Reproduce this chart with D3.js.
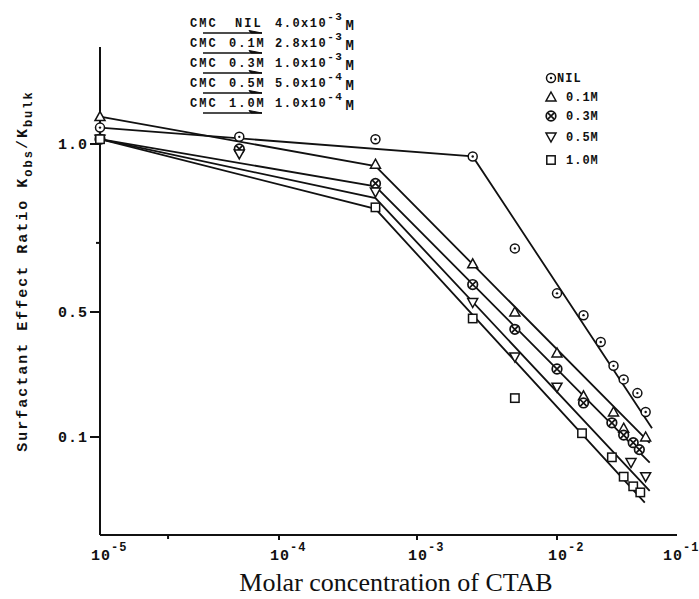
<!DOCTYPE html>
<html>
<head>
<meta charset="utf-8">
<script src="https://cdn.jsdelivr.net/npm/d3@7"></script>
<style>
  html, body { margin: 0; padding: 0; background: #fff; }
  svg { display: block; }
</style>
</head>
<body>
<div id="chart"></div>
<script>
// axis ticks
const xTicks = [1e-5, 1e-4, 1e-3, 1e-2, 1e-1];
const xTickExps = ['-5', '-4', '-3', '-2', '-1'];
const xMinorTicks = [2.4e-5];
const yTicks = [1.0, 0.5, 0.1];
const yTickLabels = ['1.0', '0.5', '0.1'];
const yMinorTicks = [0.665];

// measured points (molar conc. of CTAB, Kobs/Kbulk)
const nilX = [1e-5, 6e-5, 5e-4, 2.5e-3, 5e-3, 1e-2, 1.7e-2, 2.4e-2, 3.1e-2, 3.8e-2, 5e-2, 5.9e-2];
const nilY = [1.07, 1.03, 1.02, 0.95, 0.65, 0.54, 0.48, 0.34, 0.25, 0.21, 0.176, 0.138];
const m01X = [1e-5, 5e-4, 2.5e-3, 5e-3, 1e-2, 1.7e-2, 3.1e-2, 3.8e-2, 5.9e-2];
const m01Y = [1.12, 0.92, 0.61, 0.50, 0.295, 0.17, 0.138, 0.112, 0.10];
const m03X = [1e-5, 6e-5, 5e-4, 2.5e-3, 5e-3, 1e-2, 1.7e-2, 3e-2, 3.8e-2, 4.6e-2, 5.2e-2];
const m03Y = [1.02, 0.98, 0.85, 0.56, 0.40, 0.24, 0.155, 0.12, 0.1025, 0.093, 0.085];
const m05X = [1e-5, 6e-5, 5e-4, 2.5e-3, 5e-3, 1e-2, 4.4e-2, 5.9e-2];
const m05Y = [1.02, 0.96, 0.82, 0.52, 0.28, 0.19, 0.072, 0.06];
const m10X = [1e-5, 5e-4, 2.5e-3, 5e-3, 1.65e-2, 3e-2, 3.8e-2, 4.6e-2, 5.3e-2];
const m10Y = [1.02, 0.77, 0.46, 0.165, 0.105, 0.077, 0.06, 0.053, 0.049];

// drawn fit lines
const nilFitX = [1e-5, 2.5e-3, 6.7e-2];
const nilFitY = [1.07, 0.95, 0.112];
const m01FitX = [1e-5, 5e-4, 6.4e-2];
const m01FitY = [1.12, 0.913, 0.0926];
const m03FitX = [1e-5, 5e-4, 6.4e-2];
const m03FitY = [1.02, 0.84, 0.072];
const m05FitX = [1e-5, 5e-4, 6.4e-2];
const m05FitY = [1.02, 0.80, 0.05];
const m10FitX = [1e-5, 5e-4, 5.8e-2];
const m10FitY = [1.02, 0.765, 0.043];

const seriesNames = ['NIL', '0.1M', '0.3M', '0.5M', '1.0M'];
const seriesMarkers = ['circleDot', 'triUp', 'circleX', 'triDown', 'square'];

// CMC annotations
const cmcLabels = ['NIL', '0.1M', '0.3M', '0.5M', '1.0M'];
const cmcMantissa = ['4.0x10', '2.8x10', '1.0x10', '5.0x10', '1.0x10'];
const cmcExps = ['-3', '-3', '-3', '-4', '-4'];

const W = 699, H = 599;
const ink = '#111';
const mono = '"Liberation Mono", "DejaVu Sans Mono", monospace';

const series = [
  { x: nilX, y: nilY, fx: nilFitX, fy: nilFitY },
  { x: m01X, y: m01Y, fx: m01FitX, fy: m01FitY },
  { x: m03X, y: m03Y, fx: m03FitX, fy: m03FitY },
  { x: m05X, y: m05Y, fx: m05FitX, fy: m05FitY },
  { x: m10X, y: m10Y, fx: m10FitX, fy: m10FitY },
].map((s, i) => ({
  name: seriesNames[i],
  marker: seriesMarkers[i],
  points: s.x.map((v, j) => ({ x: v, y: s.y[j] })),
  fit: s.fx.map((v, j) => ({ x: v, y: s.fy[j] })),
}));

// the scanned axes are not evenly spaced, so use piecewise log scales
const x = d3.scaleLog().domain(xTicks).range([100, 279, 417, 557, 672]);
const y = d3.scaleLog().domain(yTicks).range([144, 312, 437]);

const svg = d3.select('#chart').append('svg')
  .attr('width', W).attr('height', H);
svg.append('rect').attr('width', W).attr('height', H).attr('fill', '#fff');

// axes frame
const axisG = svg.append('g').attr('stroke', ink).attr('stroke-width', 2).attr('fill', 'none');
axisG.append('line').attr('x1', 100).attr('x2', 100).attr('y1', 47).attr('y2', 535);
axisG.append('line').attr('x1', 100).attr('x2', 677).attr('y1', 535).attr('y2', 535);

axisG.selectAll('line.ytick').data(yTicks).join('line')
  .attr('class', 'ytick')
  .attr('x1', 90).attr('x2', 100)
  .attr('y1', d => y(d)).attr('y2', d => y(d));
axisG.selectAll('line.yminor').data(yMinorTicks).join('line')
  .attr('class', 'yminor')
  .attr('x1', 96).attr('x2', 100)
  .attr('y1', d => y(d)).attr('y2', d => y(d));
axisG.selectAll('line.xtick').data(xTicks.slice(1, 4)).join('line')
  .attr('class', 'xtick')
  .attr('x1', d => x(d)).attr('x2', d => x(d))
  .attr('y1', 535).attr('y2', 540);
axisG.selectAll('line.xminor').data(xMinorTicks).join('line')
  .attr('class', 'xminor')
  .attr('x1', d => x(d)).attr('x2', d => x(d))
  .attr('y1', 535).attr('y2', 539);

// y tick labels
svg.selectAll('text.ylab').data(yTicks).join('text')
  .attr('class', 'ylab')
  .attr('x', 88).attr('y', d => y(d) + 5)
  .attr('text-anchor', 'end')
  .attr('font-family', mono).attr('font-weight', 'bold').attr('font-size', 15)
  .attr('letter-spacing', 1).attr('fill', ink)
  .text((d, i) => yTickLabels[i]);

// x tick labels 10^n
const xl = svg.selectAll('text.xlab').data(xTicks).join('text')
  .attr('class', 'xlab')
  .attr('x', d => x(d) - 9).attr('y', 560)
  .attr('font-family', mono).attr('font-weight', 'bold').attr('font-size', 15)
  .attr('fill', ink);
xl.append('tspan').attr('letter-spacing', 1).text('10');
xl.append('tspan').attr('dy', -9).attr('font-size', 12).attr('letter-spacing', 1)
  .text((d, i) => xTickExps[i]);

// axis titles
svg.append('text')
  .attr('x', 396).attr('y', 591)
  .attr('text-anchor', 'middle')
  .attr('font-family', '"Liberation Serif", "Times New Roman", serif')
  .attr('font-size', 26).attr('fill', ink)
  .text('Molar concentration of CTAB');

const yt = svg.append('text')
  .attr('transform', 'translate(27,271) rotate(-90)')
  .attr('text-anchor', 'middle')
  .attr('font-family', mono).attr('font-weight', 'bold').attr('font-size', 15)
  .attr('letter-spacing', 2).attr('fill', ink);
yt.append('tspan').text('Surfactant Effect Ratio K');
yt.append('tspan').attr('dy', 5).attr('font-size', 12).text('obs');
yt.append('tspan').attr('dy', -5).text('/K');
yt.append('tspan').attr('dy', 5).attr('font-size', 12).text('bulk');

// fit lines
const line = d3.line().x(d => x(d.x)).y(d => y(d.y));
svg.append('g').selectAll('path.fit').data(series).join('path')
  .attr('class', 'fit')
  .attr('d', d => line(d.fit))
  .attr('fill', 'none').attr('stroke', ink).attr('stroke-width', 1.8);

// markers
function drawMarker(g, type) {
  g.attr('fill', '#fff').attr('stroke', ink).attr('stroke-width', 1.5);
  if (type === 'circleDot') {
    g.append('circle').attr('r', 4.5);
    g.append('circle').attr('r', 1.2).attr('fill', ink).attr('stroke', 'none');
  } else if (type === 'circleX') {
    g.append('circle').attr('r', 4.8).attr('stroke-width', 1.7);
    g.append('path').attr('d', 'M-3.2,-3.2L3.2,3.2M-3.2,3.2L3.2,-3.2').attr('stroke-width', 1.7);
  } else if (type === 'triUp') {
    g.append('path').attr('d', 'M0,-5L5,4L-5,4Z');
  } else if (type === 'triDown') {
    g.append('path').attr('d', 'M0,5L5,-4L-5,-4Z');
  } else {
    g.append('rect').attr('x', -4.2).attr('y', -4.2).attr('width', 8.4).attr('height', 8.4);
  }
}

series.forEach(s => {
  svg.append('g').selectAll('g.pt').data(s.points).join('g')
    .attr('class', 'pt')
    .attr('transform', d => `translate(${x(d.x)},${y(d.y)})`)
    .each(function() { drawMarker(d3.select(this), s.marker); });
});

// right legend
const legendRows = [78, 97, 116, 137, 160];
series.forEach((s, i) => {
  const g = svg.append('g').attr('transform', `translate(551,${legendRows[i]})`);
  drawMarker(g.append('g'), s.marker);
  g.append('text')
    .attr('x', i === 0 ? 6 : 15).attr('y', 4)
    .attr('font-family', mono).attr('font-weight', 'bold').attr('font-size', 12)
    .attr('letter-spacing', 1).attr('fill', ink)
    .text(s.name);
});

// CMC annotation block
const cmcRowY = [27, 47, 67, 87, 107];
cmcLabels.forEach((lab, i) => {
  const g = svg.append('g').attr('transform', `translate(0,${cmcRowY[i]})`)
    .attr('font-family', mono).attr('font-weight', 'bold').attr('fill', ink);
  g.append('text').attr('x', 190).attr('y', 0).attr('font-size', 12)
    .attr('letter-spacing', 2).text('CMC');
  g.append('text').attr('x', i === 0 ? 235 : 229).attr('y', 0).attr('font-size', 12)
    .attr('letter-spacing', 2).text(lab);
  const v = g.append('text').attr('x', 275).attr('y', 0).attr('font-size', 12)
    .attr('letter-spacing', 1.5);
  v.append('tspan').text(cmcMantissa[i]);
  v.append('tspan').attr('dy', -7).attr('font-size', 11).text(cmcExps[i]);
  v.append('tspan').attr('dy', 10).attr('dx', 2).attr('font-size', 14).text('M');
  // arrow under the label
  g.append('path')
    .attr('d', 'M203,6L262,6')
    .attr('stroke', ink).attr('stroke-width', 1.6).attr('fill', 'none');
  g.append('path')
    .attr('d', 'M262,6L249,3.5L251,6Z')
    .attr('fill', ink).attr('stroke', ink).attr('stroke-width', 1);
});
</script>
</body>
</html>
